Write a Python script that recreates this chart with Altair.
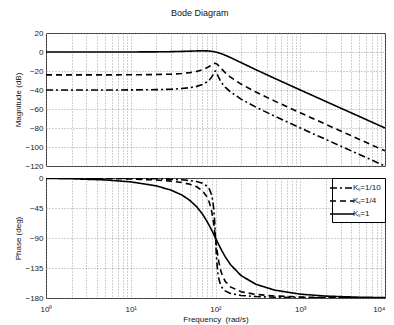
import altair as alt
import pandas as pd

freq = [1, 2, 5, 10, 20, 30, 40, 50, 60, 70, 80, 85, 90, 93, 95, 97, 98, 99, 100,
        101, 102, 103, 105, 107, 110, 115, 120, 130, 150, 200, 300, 500, 1000,
        2000, 5000, 10000]

series = ["Kₛ=1/10", "Kₛ=1/4", "Kₛ=1"]

mag_k10 = [-40.00, -40.00, -39.98, -39.91, -39.65, -39.19, -38.50, -37.52, -36.16,
           -34.23, -31.33, -29.26, -26.45, -24.30, -22.68, -21.11, -20.48, -20.09,
           -20.00, -20.25, -20.81, -21.56, -23.33, -25.11, -27.50, -30.69, -33.18,
           -36.93, -42.00, -49.56, -58.07, -67.61, -79.91, -92.02, -107.96, -120.00]
mag_k4 = [-24.08, -24.08, -24.06, -24.00, -23.74, -23.29, -22.63, -21.70, -20.44,
          -18.72, -16.38, -14.95, -13.46, -12.67, -12.27, -12.03, -11.98, -11.98,
          -12.04, -12.16, -12.32, -12.53, -13.08, -13.75, -14.86, -16.79, -18.61,
          -21.73, -26.39, -33.74, -42.18, -51.70, -64.00, -76.10, -92.04, -104.08]
mag_k1 = [0.00, 0.00, 0.01, 0.04, 0.17, 0.37, 0.63, 0.90, 1.14, 1.25, 1.14, 0.97,
          0.73, 0.54, 0.40, 0.25, 0.17, 0.09, 0.00, -0.09, -0.18, -0.27, -0.47,
          -0.67, -0.98, -1.54, -2.13, -3.36, -5.81, -11.14, -18.63, -27.79, -39.96,
          -52.03, -67.96, -80.00]

ph_k10 = [-0.06, -0.11, -0.29, -0.58, -1.19, -1.89, -2.73, -3.81, -5.36, -7.82,
          -12.53, -17.03, -25.35, -34.54, -44.26, -58.65, -68.00, -78.63, -90.00,
          -101.26, -111.61, -120.59, -134.31, -143.56, -152.35, -160.37, -164.74,
          -169.33, -173.16, -176.19, -177.85, -178.81, -179.42, -179.71, -179.89,
          -179.94]
ph_k4 = [-0.14, -0.29, -0.72, -1.45, -2.98, -4.71, -6.79, -9.46, -13.19, -18.93,
         -29.05, -37.45, -49.82, -59.84, -67.68, -76.30, -80.82, -85.40, -90.00,
         -94.55, -99.00, -103.31, -111.33, -118.44, -127.37, -138.29, -145.71,
         -154.78, -163.30, -170.54, -174.64, -177.02, -178.55, -179.28, -179.71,
         -179.86]
ph_k1 = [-0.57, -1.15, -2.87, -5.77, -11.77, -18.25, -25.46, -33.69, -43.15, -53.92,
         -65.77, -71.92, -78.08, -81.73, -84.14, -86.51, -87.69, -88.85, -90.00,
         -91.14, -92.27, -93.38, -95.58, -97.71, -100.81, -105.66, -110.14, -117.96,
         -129.81, -146.31, -159.44, -168.23, -174.23, -177.13, -178.85, -179.43]

x_grid = [1, 2, 3, 4, 5, 6, 7, 8, 9, 10, 20, 30, 40, 50, 60, 70, 80, 90, 100,
          200, 300, 400, 500, 600, 700, 800, 900, 1000, 2000, 3000, 4000, 5000,
          6000, 7000, 8000, 9000, 10000]
mag_ticks = [20, 0, -20, -40, -60, -80, -100, -120]
ph_ticks = [0, -45, -90, -135, -180]

rows = []
for name, m, p in zip(series, [mag_k10, mag_k4, mag_k1], [ph_k10, ph_k4, ph_k1]):
    for f, mv, pv in zip(freq, m, p):
        rows.append({"freq": f, "mag": mv, "phase": pv, "series": name})
df = pd.DataFrame(rows)

FONT = "Liberation Sans"
W = 339
dash_scale = alt.Scale(domain=series, range=[[7, 3, 2, 3], [6, 4], [1, 0]])

xscale = alt.Scale(type="log", domain=[1, 10000], nice=False)

label_expr = ("datum.value == 1 ? '10⁰' : datum.value == 10 ? '10¹' : "
              "datum.value == 100 ? '10²' : datum.value == 1000 ? '10³' : "
              "datum.value == 10000 ? '10⁴' : ''")

grid_kw = dict(grid=True, gridColor="#888", gridDash=[1, 2], gridWidth=0.8,
               ticks=False, domain=False)

top = alt.Chart(df).mark_line(color="black", strokeWidth=1.6, clip=True).encode(
    x=alt.X("freq:Q", scale=xscale,
            axis=alt.Axis(values=x_grid, labels=False, title=None, **grid_kw)),
    y=alt.Y("mag:Q", scale=alt.Scale(domain=[-120, 20], nice=False),
            axis=alt.Axis(values=mag_ticks, title="Magnitude (dB)",
                          minExtent=22, maxExtent=22, titlePadding=2,
                          labelPadding=3, **grid_kw)),
    strokeDash=alt.StrokeDash("series:N", scale=dash_scale, legend=None),
).properties(width=W, height=133)

bottom = alt.Chart(df).mark_line(color="black", strokeWidth=1.6, clip=True).encode(
    x=alt.X("freq:Q", scale=xscale,
            axis=alt.Axis(values=x_grid, labelExpr=label_expr,
                          labelAlign={"condition": {"test": "datum.value == 10000",
                                                    "value": "right"},
                                      "value": "center"},
                          title="Frequency\u00a0 (rad/s)", labelPadding=7,
                          titlePadding=2, labelOverlap=False, **grid_kw)),
    y=alt.Y("phase:Q", scale=alt.Scale(domain=[-180, 0], nice=False),
            axis=alt.Axis(values=ph_ticks, title="Phase (deg)",
                          minExtent=22, maxExtent=22, titlePadding=2,
                          labelPadding=3, **grid_kw)),
    strokeDash=alt.StrokeDash(
        "series:N", scale=dash_scale,
        legend=alt.Legend(title=None, orient="top-right", offset=0,
                          symbolType="M-2.4,0H2.4", symbolSize=100,
                          symbolStrokeWidth=1.5, symbolStrokeColor="black",
                          labelFontSize=8, labelFont=FONT, labelColor="#111",
                          strokeColor="black", fillColor="white", padding=4,
                          rowPadding=3, labelOffset=5)),
).properties(width=W, height=120)

chart = alt.vconcat(top, bottom, spacing=2).resolve_scale(
    strokeDash="independent"
).resolve_legend(strokeDash="independent").properties(
    title=alt.Title("Bode Diagram", fontSize=9, font=FONT, fontWeight="normal",
                    color="#111", anchor="middle", offset=11, baseline="top"),
    padding={"left": 5, "top": 0, "right": 0, "bottom": 0},
).configure_view(stroke="#333", strokeWidth=1).configure_axis(
    labelFont=FONT, labelFontSize=8, labelColor="#222",
    titleFont=FONT, titleFontSize=8, titleColor="#111", titleFontWeight="normal",
)

chart.save("out.html", embed_options={"renderer": "svg", "actions": False})
